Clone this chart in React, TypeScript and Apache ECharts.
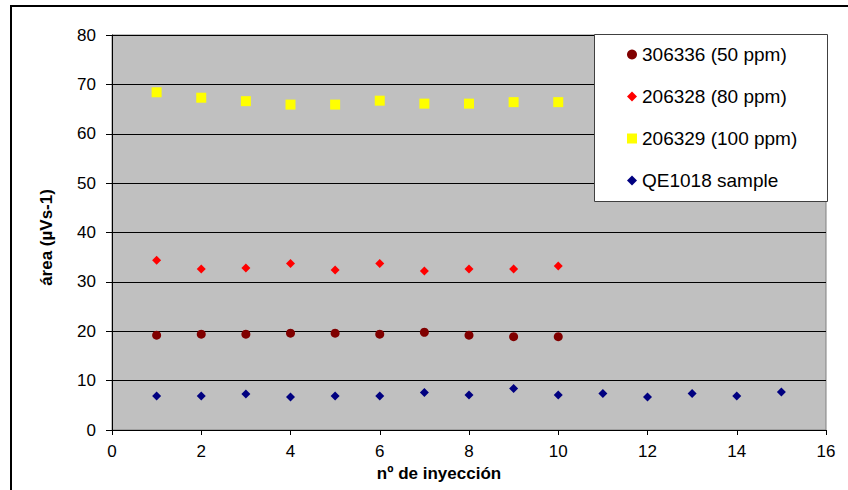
import React, { useEffect, useRef } from "react";
import * as echarts from "echarts";

const injections = [1, 2, 3, 4, 5, 6, 7, 8, 9, 10, 11, 12, 13, 14, 15];
const s306336 = [19.2, 19.4, 19.4, 19.6, 19.6, 19.4, 19.8, 19.2, 18.9, 18.9];
const s206328 = [34.4, 32.6, 32.8, 33.7, 32.4, 33.7, 32.2, 32.6, 32.6, 33.2];
const s206329 = [68.4, 67.3, 66.6, 65.9, 65.9, 66.7, 66.1, 66.1, 66.4, 66.4];
const sQE1018 = [6.9, 6.9, 7.3, 6.7, 6.9, 6.9, 7.6, 7.1, 8.4, 7.1, 7.4, 6.7, 7.4, 6.9, 7.7];
const seriesNames = ["306336 (50 ppm)", "206328 (80 ppm)", "206329 (100 ppm)", "QE1018 sample"];
const xTicks = [0, 2, 4, 6, 8, 10, 12, 14, 16];
const yTicks = [0, 10, 20, 30, 40, 50, 60, 70, 80];

const toPairs = (vals: number[]) => vals.map((v, i) => [injections[i], v]);

export default function App() {
  const ref = useRef<HTMLDivElement>(null);
  useEffect(() => {
    if (!ref.current) return;
    const chart = echarts.init(ref.current, undefined, { renderer: "svg" });
    const font = "Liberation Sans, Arial, sans-serif";
    chart.setOption({
      animation: false,
      backgroundColor: "#ffffff",
      grid: {
        left: 112,
        right: 22,
        top: 35,
        bottom: 60,
        show: true,
        backgroundColor: "#C0C0C0",
        borderColor: "#808080",
        borderWidth: 1,
      },
      graphic: [
        {
          type: "line",
          shape: { x1: 10, y1: 6, x2: 848, y2: 6 },
          style: { stroke: "#000", lineWidth: 2 },
        },
        {
          type: "line",
          shape: { x1: 11, y1: 5, x2: 11, y2: 490 },
          style: { stroke: "#000", lineWidth: 2 },
        },
        {
          type: "rect",
          z: 3,
          shape: { x: 594.5, y: 34.5, width: 233, height: 167 },
          style: { fill: "#ffffff", stroke: "#404040", lineWidth: 1 },
        },
      ],
      legend: {
        z: 10,
        orient: "vertical",
        left: 627,
        top: 45,
        padding: 0,
        itemGap: 23,
        itemWidth: 10,
        itemHeight: 10,
        textStyle: { fontFamily: font, fontSize: 19, color: "#000" },
        data: [
          { name: seriesNames[0], icon: "circle" },
          { name: seriesNames[1], icon: "diamond" },
          { name: seriesNames[2], icon: "rect" },
          { name: seriesNames[3], icon: "diamond" },
        ],
      },
      xAxis: {
        type: "value",
        min: 0,
        max: 16,
        interval: 2,
        name: "nº de inyección",
        nameLocation: "middle",
        nameGap: 32,
        nameTextStyle: {
          fontFamily: font,
          fontSize: 17,
          fontWeight: "bold",
          color: "#000",
          padding: [0, 60, 0, 0],
        },
        axisLine: { show: true, lineStyle: { color: "#000", width: 1 } },
        axisTick: { show: true, inside: false, length: 5, lineStyle: { color: "#000" } },
        axisLabel: {
          fontFamily: font,
          fontSize: 17,
          color: "#000",
          margin: 13,
          formatter: (v: number) => (xTicks.includes(v) ? String(v) : ""),
        },
        splitLine: { show: false },
      },
      yAxis: {
        type: "value",
        min: 0,
        max: 80,
        interval: 10,
        name: "área (µVs-1)",
        nameLocation: "middle",
        nameGap: 57,
        nameTextStyle: {
          fontFamily: font,
          fontSize: 17,
          fontWeight: "bold",
          color: "#000",
          padding: [0, 10, 0, 0],
        },
        axisLine: { show: true, lineStyle: { color: "#000", width: 1 } },
        axisTick: { show: true, inside: false, length: 6, lineStyle: { color: "#000" } },
        axisLabel: {
          fontFamily: font,
          fontSize: 17,
          color: "#000",
          margin: 16,
          formatter: (v: number) => (yTicks.includes(v) ? String(v) : ""),
        },
        splitLine: { show: true, lineStyle: { color: "#000", width: 1 } },
      },
      series: [
        {
          name: seriesNames[0],
          type: "scatter",
          symbol: "circle",
          symbolSize: 9,
          itemStyle: { color: "#800000", opacity: 1 },
          data: toPairs(s306336),
          z: 5,
        },
        {
          name: seriesNames[1],
          type: "scatter",
          symbol: "diamond",
          symbolSize: 9,
          itemStyle: { color: "#FF0000", opacity: 1 },
          data: toPairs(s206328),
          z: 5,
        },
        {
          name: seriesNames[2],
          type: "scatter",
          symbol: "rect",
          symbolSize: 10,
          itemStyle: { color: "#FFFF00", opacity: 1 },
          data: toPairs(s206329),
          z: 5,
        },
        {
          name: seriesNames[3],
          type: "scatter",
          symbol: "diamond",
          symbolSize: 9,
          itemStyle: { color: "#000080", opacity: 1 },
          data: toPairs(sQE1018),
          z: 5,
        },
      ],
    });
    return () => chart.dispose();
  }, []);
  return <div ref={ref} style={{ width: 848, height: 490, position: "absolute", left: 0, top: 0 }} />;
}
